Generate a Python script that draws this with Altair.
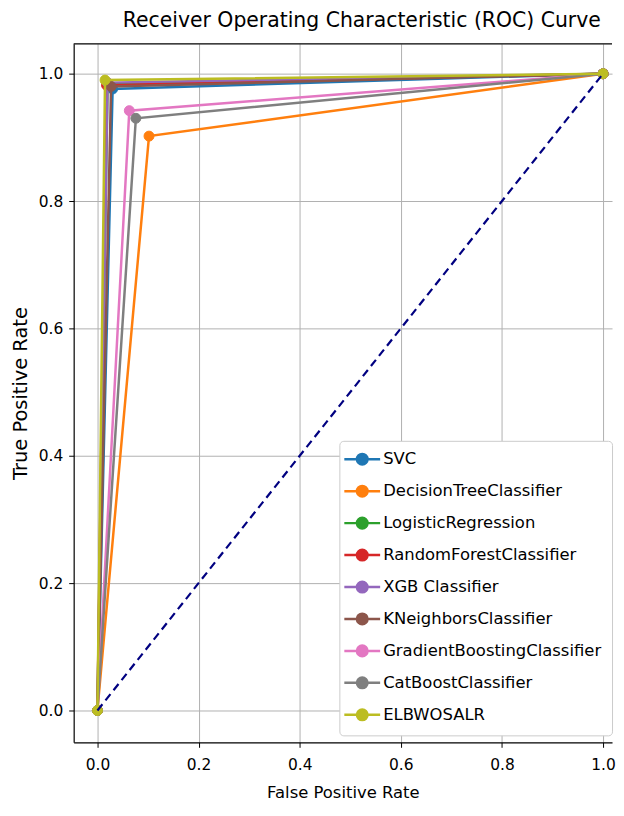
import altair as alt
import pandas as pd

models = ["SVC", "DecisionTreeClassifier", "LogisticRegression", "RandomForestClassifier",
          "XGB Classifier", "KNeighborsClassifier", "GradientBoostingClassifier",
          "CatBoostClassifier", "ELBWOSALR"]
colors = ["#1f77b4", "#ff7f0e", "#2ca02c", "#d62728", "#9467bd",
          "#8c564b", "#e377c2", "#7f7f7f", "#bcbd22"]
fpr_mid = [0.030, 0.102, 0.020, 0.018, 0.020, 0.027, 0.063, 0.076, 0.015]
tpr_mid = [0.976, 0.902, 0.984, 0.982, 0.986, 0.980, 0.942, 0.930, 0.990]
ticks = [0.0, 0.2, 0.4, 0.6, 0.8, 1.0]
diag = [0.0, 1.0]

rows = []
for m, f, t in zip(models, fpr_mid, tpr_mid):
    rows.append({"model": m, "fpr": 0.0, "tpr": 0.0, "o": 0})
    rows.append({"model": m, "fpr": f, "tpr": t, "o": 1})
    rows.append({"model": m, "fpr": 1.0, "tpr": 1.0, "o": 2})
df = pd.DataFrame(rows)
ddf = pd.DataFrame({"fpr": diag, "tpr": diag})

W, H = 541, 702
FONT = "DejaVu Sans"

xs = alt.Scale(domain=[-0.047, 1.0177], nice=False, zero=False)
ys = alt.Scale(domain=[-0.05, 1.047], nice=False, zero=False)

xenc = alt.X("fpr:Q", scale=xs, title="False Positive Rate",
             axis=alt.Axis(values=ticks, format=".1f", labelPadding=10, titlePadding=12,
                           titleFontSize=16.5))
yenc = alt.Y("tpr:Q", scale=ys, title="True Positive Rate",
             axis=alt.Axis(values=ticks, format=".1f", labelPadding=6, titlePadding=8,
                           titleFontSize=19.5))

sym = "M-1.93,0L3.21,0M-0.12,0A0.76,0.76,0,1,1,1.40,0A0.76,0.76,0,1,1,-0.12,0Z"
legend = alt.Legend(
    title=None, orient="none", legendX=267, legendY=399,
    symbolType=sym, symbolSize=196, symbolStrokeWidth=2.5, symbolOpacity=1,
    labelFont=FONT, labelFontSize=16.5, labelColor="#000000", labelOffset=17, labelLimit=0,
    rowPadding=11.1, padding=10, strokeColor="#cccccc", fillColor="#ffffff",
    cornerRadius=4,
)
cscale = alt.Scale(domain=models, range=colors)
senc = alt.Stroke("model:N", scale=cscale, legend=legend)
fenc = alt.Fill("model:N", scale=cscale, legend=legend)

layers = []
for m in models:
    sub = alt.Chart(df).transform_filter(alt.datum.model == m)
    layers.append(sub.mark_line(strokeWidth=2.5).encode(x=xenc, y=yenc, stroke=senc, order="o:Q"))
    layers.append(sub.mark_point(size=100, opacity=1, fillOpacity=1, strokeWidth=1).encode(
        x=xenc, y=yenc, stroke=senc, fill=fenc))

diag_line = alt.Chart(ddf).mark_line(color="#000080", strokeWidth=2.2, strokeDash=[8, 5]).encode(
    x=alt.X("fpr:Q", scale=xs), y=alt.Y("tpr:Q", scale=ys))
layers.append(diag_line)

top = alt.Chart(pd.DataFrame({"a": [0]})).mark_rule(color="#000000", strokeWidth=1.2).encode(
    x=alt.value(0), x2=alt.value(W), y=alt.value(0))
layers.append(top)

chart = alt.layer(*layers).properties(
    width=W, height=H,
    padding={"left": 2, "right": 0, "top": 0, "bottom": 0},
    title=alt.TitleParams("Receiver Operating Characteristic (ROC) Curve",
                          font=FONT, fontSize=20.5, fontWeight="normal", color="#000000",
                          dx=19, offset=12),
).configure_view(strokeWidth=0).configure_axis(
    labelFont=FONT, titleFont=FONT, labelFontSize=15.5,
    titleFontWeight="normal", labelColor="#000000", titleColor="#000000",
    domainColor="#000000", domainWidth=1.2, tickColor="#000000", tickSize=5,
    gridColor="#b0b0b0", gridWidth=1,
)

chart.save("out.html", embed_options={"renderer": "svg", "actions": False})
